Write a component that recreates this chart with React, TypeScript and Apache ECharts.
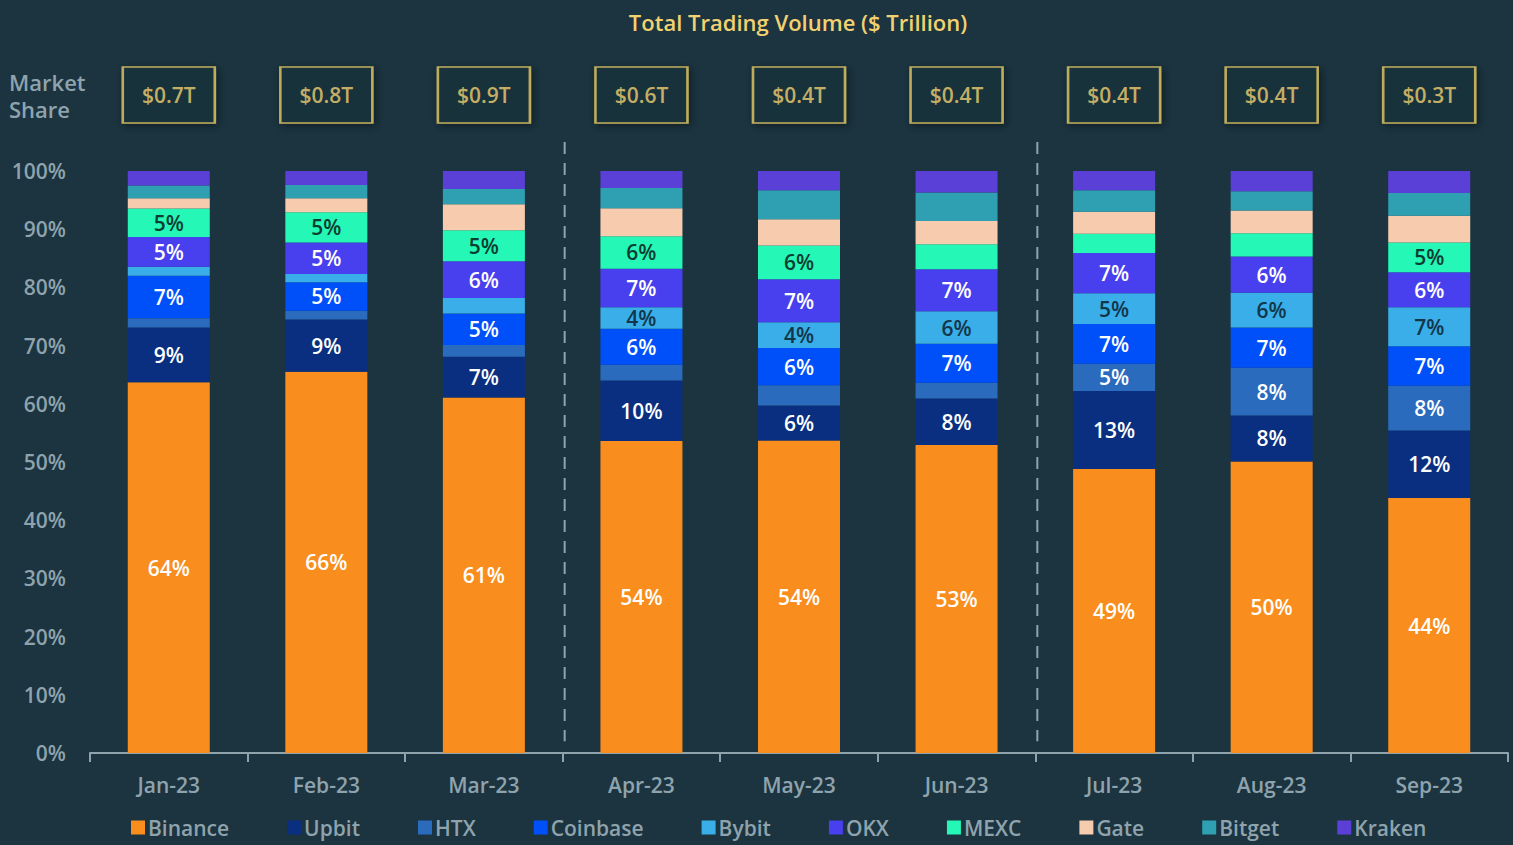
import React, { useEffect, useRef } from "react";
import * as echarts from "echarts";

const months = ["Jan-23", "Feb-23", "Mar-23", "Apr-23", "May-23", "Jun-23", "Jul-23", "Aug-23", "Sep-23"];
const volumes = [0.7, 0.8, 0.9, 0.6, 0.4, 0.4, 0.4, 0.4, 0.3];
const exchanges = ["Binance", "Upbit", "HTX", "Coinbase", "Bybit", "OKX", "MEXC", "Gate", "Bitget", "Kraken"];
// quarter boundaries (position on a 0..9 scale of months)
const quarterBreaks = [3, 6];

const binance = [63.7, 65.5, 61.1, 53.6, 53.7, 52.9, 48.8, 50.1, 43.8];
const upbit = [9.4, 9.0, 7.0, 10.4, 6.0, 8.0, 13.4, 7.9, 11.6];
const htx = [1.6, 1.5, 2.0, 2.7, 3.5, 2.7, 4.7, 8.2, 7.7];
const coinbase = [7.3, 4.9, 5.4, 6.2, 6.4, 6.7, 6.8, 6.9, 6.8];
const bybit = [1.55, 1.4, 2.7, 3.7, 4.4, 5.6, 5.3, 6.0, 6.7];
const okx = [5.1, 5.4, 6.3, 6.6, 7.4, 7.2, 6.9, 6.2, 6.0];
const mexc = [4.9, 5.2, 5.3, 5.6, 5.8, 4.3, 3.3, 4.0, 5.1];
const gate = [1.75, 2.4, 4.5, 4.8, 4.5, 4.0, 3.8, 3.9, 4.6];
const bitget = [2.2, 2.3, 2.6, 3.5, 5.0, 4.9, 3.7, 3.3, 3.9];
const kraken = [2.5, 2.4, 3.1, 2.9, 3.3, 3.7, 3.3, 3.5, 3.8];

// which segments carry a % label in the reference
const labelBinance = [1, 1, 1, 1, 1, 1, 1, 1, 1];
const labelUpbit = [1, 1, 1, 1, 1, 1, 1, 1, 1];
const labelHtx = [0, 0, 0, 0, 0, 0, 1, 1, 1];
const labelCoinbase = [1, 1, 1, 1, 1, 1, 1, 1, 1];
const labelBybit = [0, 0, 0, 1, 1, 1, 1, 1, 1];
const labelOkx = [1, 1, 1, 1, 1, 1, 1, 1, 1];
const labelMexc = [1, 1, 1, 1, 1, 0, 0, 0, 1];
const labelNone = [0, 0, 0, 0, 0, 0, 0, 0, 0];

const seriesValues = [binance, upbit, htx, coinbase, bybit, okx, mexc, gate, bitget, kraken];
const seriesLabels = [labelBinance, labelUpbit, labelHtx, labelCoinbase, labelBybit, labelOkx, labelMexc, labelNone, labelNone, labelNone];
const colors = ["#F98D1D", "#0A2F80", "#2A6BBE", "#0050FA", "#3AAEE8", "#483FEF", "#24F7B6", "#F7CBAD", "#2FA0B2", "#5A40D6"];
const labelColors = ["#ffffff", "#ffffff", "#ffffff", "#ffffff", "#12364A", "#ffffff", "#0C3D30", "#ffffff", "#ffffff", "#ffffff"];

const BG = "#1B3440";
const GRAY = "#8FA3AD";
const GOLD = "#F2D170";
const FONT = "Open Sans";
const FW = 600;

export default function App() {
  const ref = useRef<HTMLDivElement>(null);
  useEffect(() => {
    document.body.style.margin = "0";
    const chart = echarts.init(ref.current!, null, { renderer: "svg" });
    const barSeries = exchanges.map((name, s) => ({
      name,
      type: "bar",
      stack: "share",
      barWidth: 82,
      xAxisIndex: 0,
      yAxisIndex: 0,
      itemStyle: { color: colors[s] },
      label: {
        position: "inside",
        color: labelColors[s],
        fontSize: 21,
        fontWeight: FW,
        fontFamily: FONT,
        formatter: (p: any) => Math.round(p.value) + "%",
      },
      data: seriesValues[s].map((v, i) => ({ value: v, label: { show: !!seriesLabels[s][i] } })),
    }));
    const option: any = {
      animation: false,
      backgroundColor: BG,
      textStyle: { fontFamily: FONT },
      graphic: [
        {
          type: "text",
          x: 798,
          y: 22,
          style: {
            text: "Total Trading Volume ($ Trillion)",
            fill: GOLD,
            font: `${FW} 22px "${FONT}"`,
            textAlign: "center",
            textVerticalAlign: "middle",
          },
        },
        {
          type: "text",
          x: 9,
          y: 68,
          style: {
            text: "Market\nShare",
            fill: GRAY,
            font: `${FW} 22px "${FONT}"`,
            lineHeight: 27,
          },
        },
      ],
      legend: {
        left: 126,
        bottom: 2,
        itemWidth: 14,
        itemHeight: 14,
        itemGap: 58,
        icon: "rect",
        data: exchanges,
        textStyle: { color: GRAY, fontSize: 21, fontWeight: FW, fontFamily: FONT, padding: [0, 0, 0, -2] },
      },
      grid: [
        { left: 90, right: 5, top: 171, bottom: 92 },
        { left: 90, right: 5, top: 67, height: 56 },
      ],
      xAxis: [
        {
          type: "category",
          gridIndex: 0,
          data: months,
          axisLine: { show: true, lineStyle: { color: GRAY, width: 2 } },
          axisTick: { show: true, length: 9, lineStyle: { color: GRAY, width: 2 } },
          axisLabel: { color: GRAY, fontSize: 21, fontWeight: FW, fontFamily: FONT, margin: 21 },
        },
        { type: "value", gridIndex: 0, min: 0, max: 9, show: false },
        { type: "category", gridIndex: 1, data: months, show: false },
      ],
      yAxis: [
        {
          type: "value",
          gridIndex: 0,
          min: 0,
          max: 100,
          interval: 10,
          axisLabel: { color: GRAY, fontSize: 21, fontWeight: FW, fontFamily: FONT, formatter: "{value}%", margin: 24 },
          splitLine: { show: false },
          axisLine: { show: false },
          axisTick: { show: false },
        },
        { type: "value", gridIndex: 1, min: 0, max: 1, show: false },
      ],
      series: [
        ...barSeries,
        {
          name: "separators",
          type: "custom",
          xAxisIndex: 1,
          yAxisIndex: 0,
          clip: false,
          silent: true,
          data: quarterBreaks.map((b) => [b]),
          renderItem: (params: any, api: any) => {
            const x = api.value(0);
            const p1 = api.coord([x, 105]);
            const p2 = api.coord([x, 2]);
            return {
              type: "line",
              shape: { x1: p1[0] + 2, y1: p1[1], x2: p2[0] + 2, y2: p2[1] },
              style: { stroke: GRAY, lineWidth: 2, lineDash: [12, 9] },
            };
          },
        },
        {
          name: "volume",
          type: "scatter",
          xAxisIndex: 2,
          yAxisIndex: 1,
          symbol: "rect",
          symbolSize: [92, 56],
          clip: false,
          itemStyle: {
            color: BG,
            borderColor: "#E5C964",
            borderWidth: 2,
            shadowBlur: 8,
            shadowColor: "rgba(0,0,0,0.55)",
            shadowOffsetX: 2,
            shadowOffsetY: 2,
          },
          label: {
            show: true,
            position: "inside",
            color: GOLD,
            fontSize: 21,
            fontWeight: FW,
            fontFamily: FONT,
            formatter: (p: any) => "$" + volumes[p.dataIndex].toFixed(1) + "T",
          },
          data: volumes.map((v, i) => [i, 0.5]),
        },
      ],
    };
    chart.setOption(option);
    return () => chart.dispose();
  }, []);
  return <div ref={ref} style={{ width: 1513, height: 845 }} />;
}
